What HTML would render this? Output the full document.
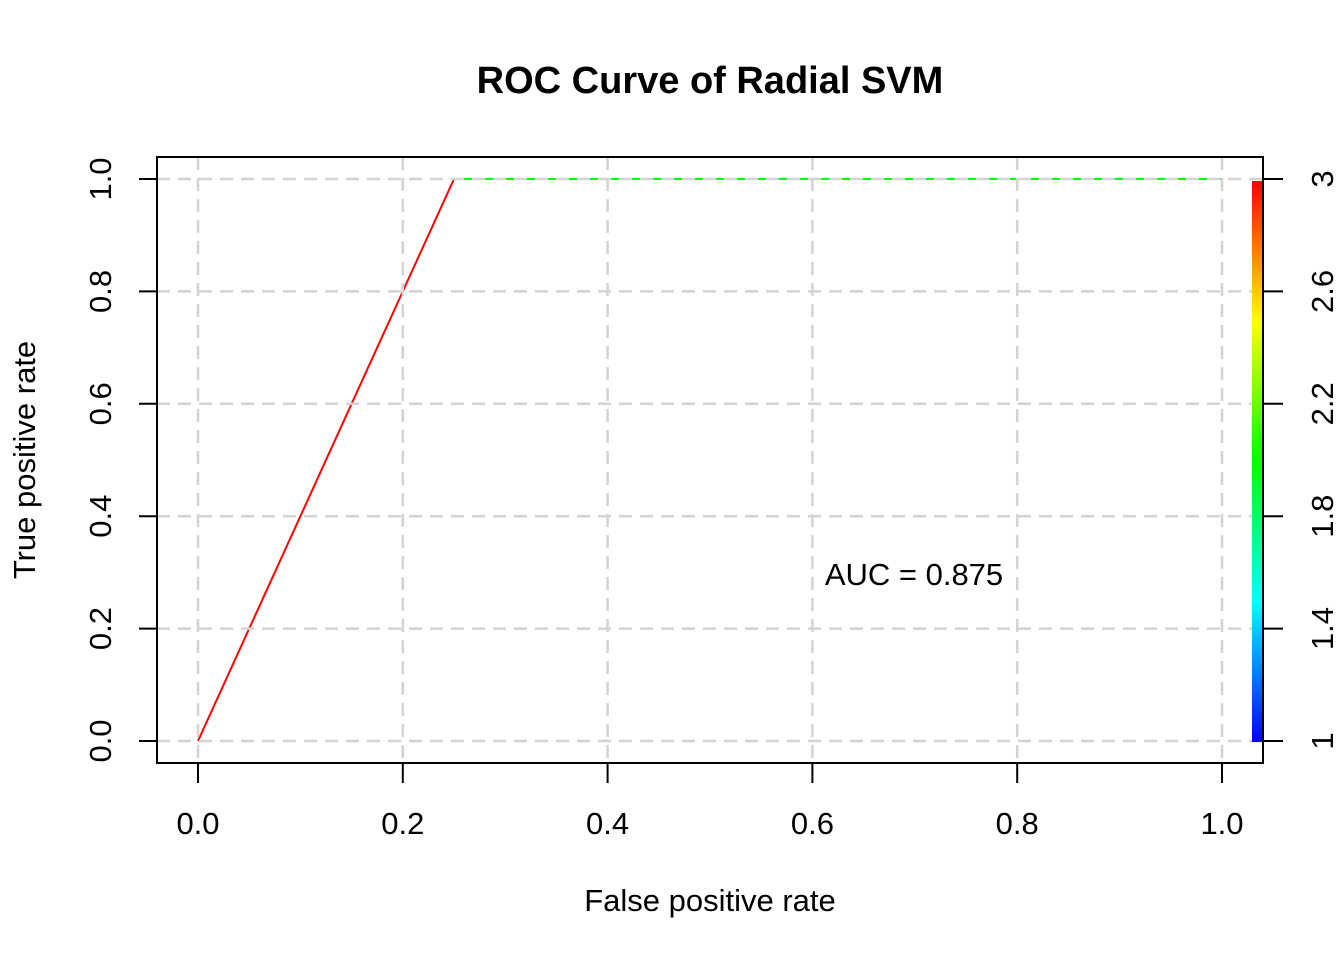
<!DOCTYPE html>
<html><head><meta charset="utf-8"><style>
body{margin:0;background:#fff}
svg text{font-family:"Liberation Sans",Arial,sans-serif;fill:#000}
</style></head><body>
<svg id="chart" width="1344" height="960" viewBox="0 0 1344 960" xmlns="http://www.w3.org/2000/svg">
<defs>
<linearGradient id="cb" x1="0" y1="1" x2="0" y2="0">
<stop offset="0" stop-color="#0000ff"/><stop offset="0.25" stop-color="#00ffff"/>
<stop offset="0.5" stop-color="#00ff00"/><stop offset="0.75" stop-color="#ffff00"/>
<stop offset="1" stop-color="#ff0000"/></linearGradient>
</defs>
<text x="710" y="93" font-size="38" font-weight="bold" text-anchor="middle">ROC Curve of Radial SVM</text>
<g id="curve"></g>
<g id="grid"></g>
<g id="axes"></g>
<rect x="157" y="157" width="1106" height="606" fill="none" stroke="#000" stroke-width="2"/>
<rect x="1252" y="181" width="10" height="561" fill="url(#cb)"/>
<text x="710" y="911" font-size="31" text-anchor="middle">False positive rate</text>
<text transform="translate(35,460) rotate(-90)" font-size="31" text-anchor="middle">True positive rate</text>
<text x="914" y="585" font-size="31" text-anchor="middle">AUC = 0.875</text>
</svg>
<script>
var fpr=[0,0.25,1];
var tpr=[0,1,1];
var segColors=['#ff0000','#00ff00'];
var xTicks=[0,0.2,0.4,0.6,0.8,1.0];
var yTicks=[0,0.2,0.4,0.6,0.8,1.0];
var cbTicks=[1,1.4,1.8,2.2,2.6,3];
var cbMin=1,cbMax=3;
var NS='http://www.w3.org/2000/svg';
function sx(v){return 198+v*1024;}
function sy(v){return 741-v*562;}
function sc(v){return 741-(v-cbMin)/(cbMax-cbMin)*562;}
function mk(t,a,p){var e=document.createElementNS(NS,t);for(var k in a)e.setAttribute(k,a[k]);p.appendChild(e);return e;}
var cg=document.getElementById('curve'),gg=document.getElementById('grid'),ag=document.getElementById('axes');
for(var i=0;i<fpr.length-1;i++){
 var l=mk('line',{x1:sx(fpr[i]),y1:sy(tpr[i]),x2:sx(fpr[i+1]),y2:sy(tpr[i+1]),stroke:segColors[i],'stroke-width':2},cg);
 
 
}
xTicks.forEach(function(v){
 var g=mk('line',{x1:sx(v),y1:157,x2:sx(v),y2:763,stroke:'#d3d3d3','stroke-width':2.5,'stroke-dasharray':'13 8'},gg);
 
 
 mk('line',{x1:sx(v),y1:763,x2:sx(v),y2:783,stroke:'#000','stroke-width':2},ag);
 var t=mk('text',{x:sx(v),y:834,'font-size':31,'text-anchor':'middle'},ag);t.textContent=v.toFixed(1);
 
 
});
yTicks.forEach(function(v){
 var g=mk('line',{x1:157,y1:sy(v),x2:1263,y2:sy(v),stroke:'#d3d3d3','stroke-width':2.5,'stroke-dasharray':'13 8'},gg);
 
 
 mk('line',{x1:139,y1:sy(v),x2:157,y2:sy(v),stroke:'#000','stroke-width':2},ag);
 var t=mk('text',{transform:'translate(111,'+sy(v)+') rotate(-90)','font-size':31,'text-anchor':'middle'},ag);t.textContent=v.toFixed(1);
 
 
});
cbTicks.forEach(function(v){
 mk('line',{x1:1263,y1:sc(v),x2:1283,y2:sc(v),stroke:'#000','stroke-width':2},ag);
 var t=mk('text',{transform:'translate(1333,'+sc(v)+') rotate(-90)','font-size':31,'text-anchor':'middle'},ag);t.textContent=String(v);
 
 
});
</script>
</body></html>
